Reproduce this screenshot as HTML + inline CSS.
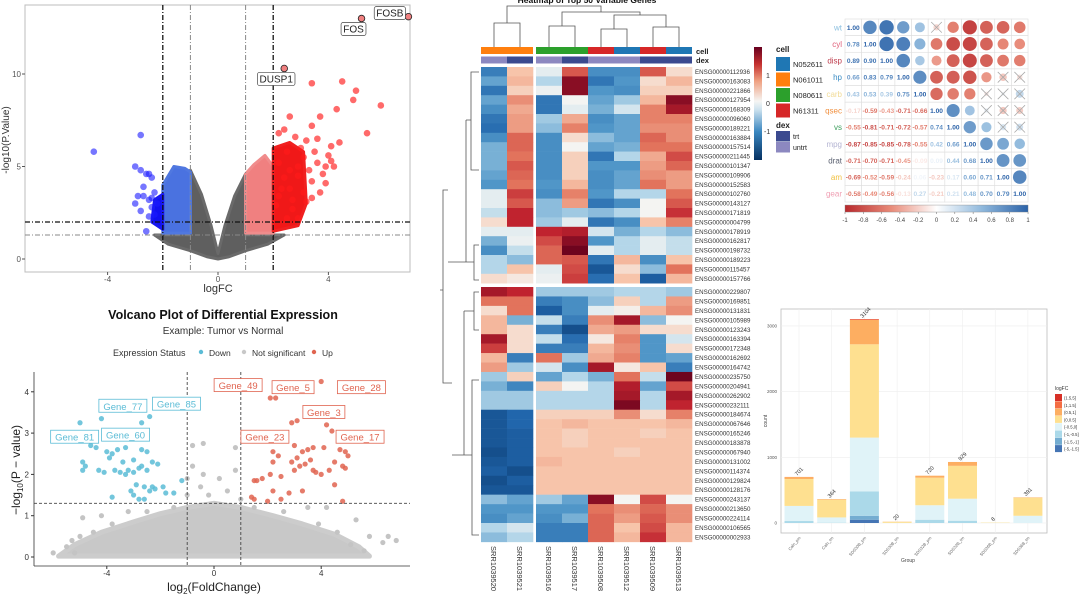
<!DOCTYPE html>
<html><head><meta charset="utf-8">
<style>
html,body{margin:0;padding:0;background:#fff;}
svg{display:block;font-family:"Liberation Sans",Arial,sans-serif;}
</style></head>
<body>
<svg id="s" width="1080" height="595" viewBox="0 0 1080 595">
  <rect x="0" y="0" width="1080" height="595" fill="#fff"/>
  <g id="v1">
    <rect x="25" y="5" width="385" height="267" fill="#fff" stroke="#bdbdbd" stroke-width="1"/>
    <text x="218" y="292" font-size="11" text-anchor="middle" fill="#333">logFC</text>
    <text transform="translate(9,140) rotate(-90)" font-size="10" text-anchor="middle" fill="#333">-log10(P.Value)</text>
  </g>
  <g id="v2">
    <text x="223" y="319" font-size="12.5" font-weight="bold" text-anchor="middle" fill="#111">Volcano Plot of Differential Expression</text>
    <text x="223" y="334" font-size="10" text-anchor="middle" fill="#333">Example: Tumor vs Normal</text>
    <g>
      <text x="113" y="356" font-size="9" fill="#333">Expression Status</text>
      <circle cx="201" cy="352" r="2.2" fill="#5bbcd6"/>
      <text x="209" y="356" font-size="8.5" fill="#333">Down</text>
      <circle cx="244" cy="352" r="2.2" fill="#c8c8c8"/>
      <text x="252" y="356" font-size="8.5" fill="#333">Not significant</text>
      <circle cx="314" cy="352" r="2.2" fill="#e06450"/>
      <text x="322" y="356" font-size="8.5" fill="#333">Up</text>
    </g>
    <line x1="34" y1="372" x2="34" y2="566" stroke="#333" stroke-width="0.8"/>
    <line x1="34" y1="566" x2="410" y2="566" stroke="#333" stroke-width="0.8"/>
    <text x="214" y="591" font-size="12" text-anchor="middle" fill="#222">log<tspan font-size="8" dy="3">2</tspan><tspan dy="-3">(FoldChange)</tspan></text>
    <text transform="translate(20,470) rotate(-90)" font-size="12" text-anchor="middle" fill="#222">−log<tspan font-size="8" dy="3">10</tspan><tspan dy="-3">(P − value)</tspan></text>
  </g>
  <g id="hm">
    <text x="587" y="3" font-size="8.5" font-weight="bold" text-anchor="middle" fill="#111">Heatmap of Top 50 Variable Genes</text>
    <g fill="none" stroke="#555" stroke-width="0.8">
      <path d="M494 47V23H520V47 M549 47V26H575V47 M601 47V29H627V47 M653 47V27H679V47 M614 29V15H666V27 M562 26V12H640V15 M507 23V6H601V12"/>
    </g>
    <g fill="none" stroke="#555" stroke-width="0.8">
      <path d="M479 72H471V170H479 M471 120H466 M479 245H474V280H479 M474 262H466 M466 120V262H448 M479 292H474V330H479 M474 311H464 M479 380H472V535H479 M472 455H464 M464 311V455H452 M448 190H443V383H452 M443 290H440"/>
    </g>
    <text x="696" y="54" font-size="7.5" font-weight="bold" fill="#222">cell</text>
    <text x="696" y="63" font-size="7.5" font-weight="bold" fill="#222">dex</text>
    <rect x="754" y="47" width="8" height="113" fill="url(#hmgrad)"/>
    <text x="766" y="78" font-size="7" fill="#333">1</text>
    <text x="766" y="106" font-size="7" fill="#333">0</text>
    <text x="764" y="134" font-size="7" fill="#333">-1</text>
    <text x="776" y="52" font-size="8" font-weight="bold" fill="#222">cell</text>
    <text x="776" y="128" font-size="8" font-weight="bold" fill="#222">dex</text>
  </g>
  <g id="corr"></g>
  <g id="bar">
    <rect x="781" y="309" width="266" height="224" fill="#fff" stroke="#bbb" stroke-width="0.8"/>
    <text transform="translate(767,421) rotate(-90)" font-size="5" text-anchor="middle" fill="#444">count</text>
    <text x="908" y="562" font-size="5" text-anchor="middle" fill="#444">Group</text>
    <text x="1055" y="390" font-size="5" fill="#333">logFC</text>
  </g>
  <defs>
    <linearGradient id="hmgrad" x1="0" y1="1" x2="0" y2="0">
      <stop offset="0" stop-color="#053061"/><stop offset="0.25" stop-color="#3a87c0"/><stop offset="0.45" stop-color="#cfe3ef"/>
      <stop offset="0.52" stop-color="#f5f5f3"/><stop offset="0.7" stop-color="#efa080"/><stop offset="0.85" stop-color="#c4302f"/><stop offset="1" stop-color="#67001f"/>
    </linearGradient>
    <linearGradient id="corrgrad" x1="0" y1="0" x2="1" y2="0">
      <stop offset="0" stop-color="#b8282c"/><stop offset="0.25" stop-color="#e88a78"/><stop offset="0.5" stop-color="#ffffff"/><stop offset="0.75" stop-color="#8fb8dc"/><stop offset="1" stop-color="#2b62a8"/>
    </linearGradient>
    <clipPath id="rowclip"><rect x="690" y="284" width="76" height="270"/></clipPath>
  </defs>
</svg>
<script>
const v1Red = [[3.4,9.5],[4.5,9.6],[5,9.1],[4.9,8.6],[5.9,8.3],[4.3,8.1],[3.7,7.7],[2.6,7.7],[3.4,7.2],[5.4,6.8],[4.4,6.3],[4.1,6.1],[3.6,6.5],[2.2,6.8],[2.4,7],[2.8,6.6],[3.2,6.4],[4,5.6],[4.1,5.3],[3.4,4.2],[3.9,4.1],[3.7,3.6],[3.2,3.1],[3.4,3.3],[2.9,4.5],[3.1,5.5],[2.5,5.8],[2.9,5],[2.6,4.8],[2.3,3.8],[2.7,3.2],[2.9,2.2],[2.5,2.2],[3.9,5.0],[3.6,5.2],[3.0,6.0],[2.2,5.2],[2.4,4.4],[2.7,2.7],[3.3,4.8],[2.1,2.9],[2.2,3.4],[2.6,3.8],[3.8,4.6],[3.1,3.6],[4.2,5.0],[3.5,5.8]];
const v1Blue = [[-4.5,5.8],[-2.8,6.7],[-3,5],[-2.8,4.8],[-2.6,4.6],[-2.5,4.6],[-2.4,4.4],[-2.7,3.9],[-2.3,3.6],[-2.9,3.4],[-2.5,3.2],[-3,3],[-2.8,2.6],[-2.4,2.8],[-2.2,3.0],[-2.3,2.4],[-2.5,2.3],[-2.6,1.5],[-2.7,3.4],[-2.4,3.3]];
const v1Labels = [["FOSB",6.9,13.1],["FOS",5.2,13.0],["DUSP1",2.4,10.3]];
const v1XTicks = [-4,0,4];
const v1YTicks = [0,5,10];
const v2Down = [[-5,3.25],[-4.2,3.35],[-2.4,3.4],[-2.7,3.25],[-4.6,2.7],[-4.4,2.65],[-4,2.55],[-3.8,2.5],[-3.6,2.6],[-3.3,2.65],[-2.7,2.6],[-2.5,2.55],[-4.9,2.3],[-4.8,2.2],[-4.9,2.1],[-4.3,2.1],[-4.1,2.05],[-3.7,2.1],[-3.5,2.05],[-3.3,2.0],[-3.2,2.1],[-3,2.05],[-2.8,2.15],[-2.7,2.2],[-2.5,2.1],[-2.3,2.3],[-2.1,2.25],[-3.9,2.4],[-3.4,2.3],[-3.0,2.35],[-2.6,1.7],[-2.4,1.6],[-2.2,1.65],[-1.9,1.7],[-1.8,1.55],[-1.5,1.55],[-1.2,1.85],[-3.8,1.45],[-3,1.5],[-2.8,1.4],[-2.6,1.4],[-3.1,1.6],[-2.9,1.75],[-2.3,1.7]];
const v2Up = [[4,4.25],[2.1,3.85],[2.3,3.85],[2.9,3.25],[3.1,3.3],[4.2,3.2],[4.4,3.05],[2.7,2.95],[3,2.7],[3.3,2.55],[3.5,2.6],[3.7,2.65],[4.1,2.65],[4.7,2.6],[4.9,2.55],[5,2.45],[2.2,2.55],[2.4,2.45],[2.2,2.3],[2.9,2.3],[3.2,2.2],[3.4,2.25],[3.6,2.35],[3.8,2.05],[4.5,2.3],[4.8,2.2],[4.9,2.15],[2.5,1.95],[2.1,2.0],[1.8,1.9],[1.6,1.85],[1.5,1.85],[3,2.1],[3.7,2.1],[4.3,2.1],[4.5,1.75],[2.8,1.55],[3.3,1.6],[2.2,1.6],[1.4,1.45],[1.5,1.4],[2,1.35],[2.5,1.4],[4.8,1.35],[3.1,2.4],[4.0,2.0]];
const v2NS = [[-6,0.1],[-5.5,0.25],[-5,0.5],[-4.9,0.95],[-4.2,1.0],[-0.8,2.7],[-0.4,2.75],[0.8,2.65],[-0.8,2.2],[-0.4,2.0],[0.2,1.9],[0.8,2.1],[-1,1.9],[-0.5,1.7],[6.5,0.5],[6.8,0.4],[5.6,0.15],[5.8,0.5],[6.3,0.35],[4.2,1.2],[5.3,0.9],[-5.2,0.1],[-3.2,1.1],[3.5,1.2],[-0.2,1.5],[0.5,1.6],[-1.5,1.2],[1.5,1.2],[-2.5,1.1],[2.6,1.1],[-3.8,0.8],[3.9,0.8],[-4.5,0.6],[4.6,0.6],[-5.3,0.4],[5.1,0.3],[-1,1.5],[1,1.4]];
const v2Labels = [["Gene_81",-5.2,2.9,"d"],["Gene_77",-3.4,3.65,"d"],["Gene_85",-1.4,3.7,"d"],["Gene_60",-3.3,2.95,"d"],["Gene_49",0.9,4.15,"u"],["Gene_5",2.95,4.1,"u"],["Gene_28",5.5,4.1,"u"],["Gene_3",4.1,3.5,"u"],["Gene_23",1.9,2.9,"u"],["Gene_17",5.45,2.9,"u"]];
const v2XTicks = [-4,0,4];
const v2YTicks = [0,1,2,3,4];
const hmSamples = ["SRR1039520","SRR1039521","SRR1039516","SRR1039517","SRR1039508","SRR1039512","SRR1039509","SRR1039513"];
const hmCell = ["N061011","N061011","N080611","N080611","N61311","N052611","N61311","N052611"];
const hmDex = ["untrt","trt","untrt","trt","untrt","untrt","trt","trt"];
const hmGenes = ["ENSG00000112936","ENSG00000163083","ENSG00000221866","ENSG00000127954","ENSG00000168309","ENSG00000096060","ENSG00000189221","ENSG00000163884","ENSG00000157514","ENSG00000211445","ENSG00000101347","ENSG00000109906","ENSG00000152583","ENSG00000102760","ENSG00000143127","ENSG00000171819","ENSG00000004799","ENSG00000178919","ENSG00000162817","ENSG00000198732","ENSG00000189223","ENSG00000115457","ENSG00000157766","ENSG00000229807","ENSG00000169851","ENSG00000131831","ENSG00000105989","ENSG00000123243","ENSG00000163394","ENSG00000172348","ENSG00000162692","ENSG00000164742","ENSG00000235750","ENSG00000204941","ENSG00000262902","ENSG00000232111","ENSG00000184674","ENSG00000067646","ENSG00000165246","ENSG00000183878","ENSG00000067940","ENSG00000131002","ENSG00000114374","ENSG00000129824","ENSG00000128176","ENSG00000243137","ENSG00000213650","ENSG00000224114","ENSG00000106565","ENSG00000002933"];
const hmValues = [
[-1.2,0.4,-0.1,1.2,-1,-1,1.2,0.2],[-0.8,0.5,-0.4,2,-1.3,-0.9,0.2,0.5],[-1.3,0.3,-0.05,2,-0.9,-1,0.3,0.3],[-0.8,0.8,-1.3,0,-0.8,-0.5,0.5,2],[-1,0.6,-1.3,-0.1,-0.7,-0.2,0.9,1.8],
[-1.3,0.7,-0.5,0.6,-1,-0.8,0.9,0.9],[-1.4,0.7,-0.6,0.9,-0.9,-0.8,0.8,0.8],[-1,1.1,-1,0.2,-0.6,-0.8,1.1,0.8],[-0.7,1.1,-1,0,-0.8,-0.7,1,1],[-0.7,1,-1,0.3,-1.3,-0.4,0.6,1.3],
[-0.7,1.2,-1,0.3,-0.9,-0.9,0.7,1.1],[-0.8,1.1,-1,0.3,-1,-0.8,0.8,0.7],[-0.9,1,-0.9,0.5,-1,-0.8,1,0.7],[-0.1,1.4,-1,0.9,-0.9,-0.4,-0.4,1],[-0.1,1.2,-0.6,0.7,-1.3,-1,0,1.2],
[-0.3,1.6,-0.6,-0.5,-0.6,-0.4,0,1.5],[0.2,1.6,-0.5,-0.1,-1.3,-1,0.4,0.9],[-0.1,-0.1,1.6,1.7,-0.2,-0.7,-0.4,-0.6],[-0.7,-0.05,1.3,2,-0.9,-0.4,-0.1,-0.3],[-1,-0.3,1.1,2.2,-0.1,-0.4,-0.1,-0.3],
[-0.4,-0.6,1.1,1.2,-1.3,0.5,-1,0.4],[-0.4,0.4,-0.1,1.3,-1.7,0.2,-0.6,1],[0.2,0.1,-0.05,1.4,-1.4,0.4,-1.6,0.5],
[1.8,1.6,-0.5,-0.5,-0.5,-0.4,-0.4,-0.5],[1,1,-1.2,-1,-0.6,0.3,-0.4,0.7],[0.2,1,-1.6,-1,-0.1,0.05,0.5,0.8],[0.5,-0.7,-0.3,-1.2,0.8,1.8,-0.6,0],[0.5,0.2,-1.2,-1.8,0.6,0.7,0.2,0.2],
[1.8,0.2,-0.3,-1.4,0.1,0.9,-0.9,-0.2],[1.4,0.2,-1.2,-1.2,0.5,0.8,-0.9,0.2],[0.5,-1.2,1,-0.5,0.6,0.9,-0.9,-0.8],[0.7,-0.5,-0.2,-1,1.8,0.1,0.4,-1.2],[-0.5,0.3,-0.8,-0.4,-0.7,1,-0.3,2.2],
[-0.7,-1.1,0.3,0,-0.4,1.7,-0.8,1.3],[-0.5,-0.5,-0.4,-0.4,-0.4,1.8,-0.4,1.8],[-0.5,-0.5,-0.4,-0.4,-0.4,2.1,-0.4,1.6],[-1.7,-1.5,0.3,0.3,0.3,0.8,0.2,0.9],[-1.7,-1.5,0.4,0.5,0.4,0.4,0.4,0.5],
[-1.7,-1.6,0.4,0.3,0.4,0.4,0.3,0.4],[-1.7,-1.6,0.4,0.3,0.4,0.4,0.4,0.4],[-1.8,-1.6,0.4,0.4,0.4,0.3,0.4,0.4],[-1.7,-1.6,0.5,0.4,0.4,0.4,0.4,0.4],[-1.6,-1.8,0.4,0.4,0.4,0.4,0.4,0.4],
[-1.8,-1.6,0.4,0.4,0.4,0.4,0.4,0.4],[-1.7,-1.7,0.4,0.4,0.4,0.4,0.4,0.4],[-0.6,-0.8,-0.5,-0.8,2,0,1.3,0],[-0.9,-0.9,-0.9,-0.9,1,0.8,1.1,0.8],[-1,-0.8,-1,-0.7,1.1,0.7,1.2,0.8],
[-0.4,-0.2,-1.2,-1.2,1.1,0.4,1.3,0.5],[-0.6,-0.4,-1.2,-1.2,1.1,0.5,1.5,0.5]];
const cellLevels = ["N052611","N061011","N080611","N61311"];
const dexLevels = ["trt","untrt"];
const corrVars = ["wt","cyl","disp","hp","carb","qsec","vs","mpg","drat","am","gear"];
const corrLower = [[],[0.78],[0.89,0.90],[0.66,0.83,0.79],[0.43,0.53,0.39,0.75],[-0.17,-0.59,-0.43,-0.71,-0.66],[-0.55,-0.81,-0.71,-0.72,-0.57,0.74],[-0.87,-0.85,-0.85,-0.78,-0.55,0.42,0.66],[-0.71,-0.70,-0.71,-0.45,-0.09,0.09,0.44,0.68],[-0.69,-0.52,-0.59,-0.24,0.06,-0.23,0.17,0.60,0.71],[-0.58,-0.49,-0.56,-0.13,0.27,-0.21,0.21,0.48,0.70,0.79]];
const corrTicks = [-1,-0.8,-0.6,-0.4,-0.2,0,0.2,0.4,0.6,0.8,1];
const barGroups = ["Caln_pm","Caln_tm","SDS30B_pm","SDS30B_tm","SDS32B_pm","SDS32B_tm","SDS36B_pm","SDS36B_tm"];
const barBins = ["(-5,-1.5]","(-1.5,-1]","(-1,-0.5]","(-0.5,0]","(0,0.5]","(0.5,1]","(1,1.5]","(1.5,5]"];
const barSeries = [
[0,0,30,230,410,30,1,0],[0,0,5,80,270,9,0,0],[50,60,370,820,1420,370,10,4],[0,0,0,2,15,3,0,0],
[0,0,50,220,420,30,0,0],[0,0,35,335,500,59,0,0],[0,0,0,3,5,0,0,0],[0,0,0,110,275,6,0,0]];
const barTotals = [701,364,3104,20,720,929,8,391];
const barYTicks = [0,1000,2000,3000];

const NS = "http://www.w3.org/2000/svg";
const svg = document.getElementById("s");
function mk(tag, attrs, parent){const e=document.createElementNS(NS,tag);for(const k in attrs)e.setAttribute(k,attrs[k]);(parent||svg).appendChild(e);return e;}

// ---------- Volcano 1 ----------
const g1 = document.getElementById("v1");
const vx1 = x=>218+x*27.6, vy1 = y=>259-y*18.5;
const grayPoly = mk("path",{d:`M${vx1(-2.3)},${vy1(1.3)} L${vx1(-1.8)},${vy1(0.8)} L${vx1(-1)},${vy1(0.45)} L${vx1(-0.4)},${vy1(0.12)} L${vx1(0)},${vy1(0)} L${vx1(0.4)},${vy1(0.12)} L${vx1(1)},${vy1(0.45)} L${vx1(1.8)},${vy1(0.8)} L${vx1(2.4)},${vy1(1.3)} L${vx1(1)},${vy1(1.3)} L${vx1(1)},${vy1(4.6)} L${vx1(0.6)},${vy1(3.4)} L${vx1(0.25)},${vy1(1.8)} L${vx1(0)},${vy1(0.3)} L${vx1(-0.25)},${vy1(1.8)} L${vx1(-0.6)},${vy1(3.5)} L${vx1(-1)},${vy1(4.8)} L${vx1(-1)},${vy1(1.3)} Z`,fill:"#5f5f5f",stroke:"#6a6a6a","stroke-width":3,"stroke-linejoin":"round"},g1);


const pinkPoly = mk("path",{d:`M${vx1(1)},${vy1(1.4)} L${vx1(2)},${vy1(1.4)} L${vx1(2)},${vy1(5)} L${vx1(1.7)},${vy1(5.6)} L${vx1(1.3)},${vy1(5.1)} L${vx1(1)},${vy1(4.6)} Z`,fill:"#f08080",stroke:"#f08c8c","stroke-width":3,"stroke-linejoin":"round"},g1);


const lbPoly = mk("path",{d:`M${vx1(-1)},${vy1(1.4)} L${vx1(-2)},${vy1(1.4)} L${vx1(-2)},${vy1(4)} L${vx1(-1.6)},${vy1(5)} L${vx1(-1.2)},${vy1(4.9)} L${vx1(-1)},${vy1(4.7)} Z`,fill:"#4a72e0",stroke:"#5078e0","stroke-width":3,"stroke-linejoin":"round"},g1);


const redPoly = mk("path",{d:`M${vx1(2)},${vy1(1.5)} L${vx1(2.9)},${vy1(1.8)} L${vx1(3.2)},${vy1(3)} L${vx1(3.1)},${vy1(5.8)} L${vx1(2.6)},${vy1(6.3)} L${vx1(2)},${vy1(6)} Z`,fill:"#f01818",stroke:"#f02020","stroke-width":3,"stroke-linejoin":"round"},g1);


const bluePoly = mk("path",{d:`M${vx1(-2)},${vy1(1.6)} L${vx1(-2.4)},${vy1(2)} L${vx1(-2.3)},${vy1(3.2)} L${vx1(-2)},${vy1(3.5)} Z`,fill:"#1010f0",stroke:"#1818f0","stroke-width":3,"stroke-linejoin":"round"},g1);


v1Red.forEach(p=>{const c=mk("circle",{cx:vx1(p[0]),cy:vy1(p[1]),r:3.3,fill:"#ff1a1a","fill-opacity":0.65},g1);

});
v1Blue.forEach(p=>{const c=mk("circle",{cx:vx1(p[0]),cy:vy1(p[1]),r:3.3,fill:"#1a1aff","fill-opacity":0.6},g1);

});
[[-2,"#111",1.3],[2,"#111",1.3],[-1,"#888",1],[1,"#888",1]].forEach(l=>{const e=mk("line",{x1:vx1(l[0]),x2:vx1(l[0]),y1:5,y2:272,stroke:l[1],"stroke-width":l[2],"stroke-dasharray":"5,2,1,2"},g1);

});
[[2,"#111",1.3],[1.3,"#888",1]].forEach(l=>{const e=mk("line",{x1:25,x2:410,y1:vy1(l[0]),y2:vy1(l[0]),stroke:l[1],"stroke-width":l[2],"stroke-dasharray":"5,2,1,2"},g1);

});
v1Labels.forEach(L=>{const x=vx1(L[1]),y=vy1(L[2]);
const c=mk("circle",{cx:x,cy:y,r:3.3,fill:"#f08080",stroke:"#222","stroke-width":0.8},g1);


const w=L[0].length*6.3+6; const bx = L[0]==="FOSB"? x-w-3 : x-w/2-8; const by = L[0]==="FOSB"? y-10 : y+4;
const r=mk("rect",{x:bx,y:by,width:w,height:13,rx:2,fill:"#fff",stroke:"#444","stroke-width":0.7},g1);


const t=mk("text",{x:bx+w/2,y:by+10,"font-size":10,"text-anchor":"middle",fill:"#222"},g1);t.textContent=L[0];

});
v1XTicks.forEach(v=>{const t=mk("text",{x:vx1(v),y:282,"font-size":8,"text-anchor":"middle",fill:"#555"},g1);t.textContent=v;


mk("line",{x1:vx1(v),x2:vx1(v),y1:272,y2:275,stroke:"#555"},g1);});
v1YTicks.forEach(v=>{const t=mk("text",{x:21,y:vy1(v)+3,"font-size":8,"text-anchor":"end",fill:"#555"},g1);t.textContent=v;


mk("line",{x1:22,x2:25,y1:vy1(v),y2:vy1(v),stroke:"#555"},g1);});

// ---------- Volcano 2 ----------
const g2 = document.getElementById("v2");
const vx2 = x=>214+x*26.8, vy2 = y=>557-y*41.3;
const blob = mk("path",{d:`M${vx2(-5.8)},${vy2(0.02)} L${vx2(-5.2)},${vy2(0.3)} L${vx2(-4.2)},${vy2(0.6)} L${vx2(-3)},${vy2(0.85)} L${vx2(-2)},${vy2(1.05)} L${vx2(-1)},${vy2(1.2)} L${vx2(0)},${vy2(1.3)} L${vx2(1)},${vy2(1.2)} L${vx2(2.2)},${vy2(1.0)} L${vx2(3.3)},${vy2(0.8)} L${vx2(4.5)},${vy2(0.55)} L${vx2(5.4)},${vy2(0.25)} L${vx2(5.8)},${vy2(0.02)} Z`,fill:"#c8c8c8",stroke:"#cccccc","stroke-width":5,"stroke-linejoin":"round"},g2);


v2NS.forEach(p=>{const c=mk("circle",{cx:vx2(p[0]),cy:vy2(p[1]),r:2.6,fill:"#c4c4c4"},g2);

});
v2Down.forEach(p=>{const c=mk("circle",{cx:vx2(p[0]),cy:vy2(p[1]),r:2.6,fill:"#5bbcd6","fill-opacity":0.85},g2);

});
v2Up.forEach(p=>{const c=mk("circle",{cx:vx2(p[0]),cy:vy2(p[1]),r:2.6,fill:"#e06450","fill-opacity":0.85},g2);

});
[-1,1].forEach(v=>{const e=mk("line",{x1:vx2(v),x2:vx2(v),y1:372,y2:566,stroke:"#444","stroke-width":0.9,"stroke-dasharray":"3,2"},g2);

});
const hl=mk("line",{x1:34,x2:410,y1:vy2(1.3),y2:vy2(1.3),stroke:"#444","stroke-width":0.9,"stroke-dasharray":"3,2"},g2);


v2Labels.forEach(L=>{const x=vx2(L[1]),y=vy2(L[2]);const col=L[3]==="d"?"#5bbcd6":"#e06450";
const w=L[0].length*6+6;
const r=mk("rect",{x:x-w/2,y:y-7,width:w,height:13,fill:"#fff",stroke:col,"stroke-width":0.8},g2);


const t=mk("text",{x:x,y:y+3.5,"font-size":9.5,"text-anchor":"middle",fill:col},g2);t.textContent=L[0];

});
v2XTicks.forEach(v=>{const t=mk("text",{x:vx2(v),y:576,"font-size":8,"text-anchor":"middle",fill:"#333"},g2);t.textContent=v;


mk("line",{x1:vx2(v),x2:vx2(v),y1:566,y2:569,stroke:"#333"},g2);});
v2YTicks.forEach(v=>{const t=mk("text",{x:29,y:vy2(v)+3,"font-size":8,"text-anchor":"end",fill:"#333"},g2);t.textContent=v;


mk("line",{x1:31,x2:34,y1:vy2(v),y2:vy2(v),stroke:"#333"},g2);});

// ---------- Heatmap ----------
const gh = document.getElementById("hm");
const cellColors = {"N052611":"#1f77b4","N061011":"#ff7f0e","N080611":"#2ca02c","N61311":"#d62728"};
const dexColors = {"trt":"#3b4a8f","untrt":"#8c88c0"};
const stops=[[-2.2,[5,48,97]],[-1.5,[33,102,172]],[-0.9,[80,150,200]],[-0.4,[180,214,233]],[0,[244,244,242]],[0.4,[247,196,170]],[1,[226,115,92]],[1.6,[192,35,47]],[2.2,[110,4,30]]];
function hcol(v){if(v<=stops[0][0])return `rgb(${stops[0][1]})`;for(let i=1;i<stops.length;i++){if(v<=stops[i][0]){const a=stops[i-1],b=stops[i];const t=(v-a[0])/(b[0]-a[0]);return `rgb(${a[1].map((c,k)=>Math.round(c+(b[1][k]-c)*t)).join(",")})`;}}return `rgb(${stops[stops.length-1][1]})`;}
const hcx = c=> c<2 ? 481+c*26 : 536+(c-2)*26;
const hry = r=> r<23 ? 67+r*9.4 : 287+(r-23)*9.44;
hmSamples.forEach((s,c)=>{
 const a=mk("rect",{x:hcx(c),y:47,width:26,height:7,fill:cellColors[hmCell[c]]},gh);
 
 
 const d=mk("rect",{x:hcx(c),y:56.5,width:26,height:7,fill:dexColors[hmDex[c]]},gh);
 
 
 const t=mk("text",{transform:`translate(${hcx(c)+10},546) rotate(90)`,"font-size":7.5,fill:"#333"},gh);t.textContent=s;
 
 
});
hmValues.forEach((row,r)=>{row.forEach((v,c)=>{
 const e=mk("rect",{x:hcx(c),y:hry(r),width:26.3,height:9.7,fill:hcol(v)},gh);
 
 });});
const rlTop = mk("g",{},gh);
const rl = mk("g",{"clip-path":"url(#rowclip)"},gh);
hmGenes.forEach((g,r)=>{const t=mk("text",{x:695,y:hry(r)+7,"font-size":6.2,fill:"#333"},r<23?rlTop:rl);t.textContent=g;

});
cellLevels.forEach((l,i)=>{const r=mk("rect",{x:776,y:57+i*15.5,width:14,height:14,fill:cellColors[l]},gh);


const t=mk("text",{x:793,y:67+i*15.5,"font-size":7.5,fill:"#222"},gh);t.textContent=l;

});
dexLevels.forEach((l,i)=>{const r=mk("rect",{x:776,y:131+i*11,width:14,height:10.5,fill:dexColors[l]},gh);


const t=mk("text",{x:793,y:139+i*11,"font-size":7,fill:"#222"},gh);t.textContent=l;

});

// ---------- Correlation ----------
const gc = document.getElementById("corr");
const cs=16.64, ox=845, oy=19, n=corrVars.length;
const labColors=["#8ec1e0","#e0607a","#c04050","#3a8cc4","#f2dc98","#f09040","#40a060","#b4b4d2","#5a6070","#f0c040","#f0a0b4"];
function corrVal(i,j){if(i===j)return 1;return i>j?corrLower[i][j]:corrLower[j][i];}
const cstops=[[-1,[184,40,44]],[-0.5,[232,138,120]],[0,[255,255,255]],[0.5,[143,184,220]],[1,[43,98,168]]];
function ccol(v){for(let i=1;i<cstops.length;i++){if(v<=cstops[i][0]){const a=cstops[i-1],b=cstops[i];const t=(v-a[0])/(b[0]-a[0]);return `rgb(${a[1].map((c,k)=>Math.round(c+(b[1][k]-c)*t)).join(",")})`;}}return "rgb(43,98,168)";}
for(let i=0;i<n;i++){for(let j=0;j<n;j++){
 const x=ox+j*cs,y=oy+i*cs,v=corrVal(i,j);
 const cell=mk("rect",{x:x,y:y,width:cs,height:cs,fill:"#fff",stroke:"#ddd","stroke-width":0.6},gc);
 
 
 if(j<=i){const t=mk("text",{x:x+cs/2,y:y+cs/2+2.5,"font-size":6.6,"font-weight":"bold","text-anchor":"middle",fill:ccol(v)},gc);t.textContent=v.toFixed(2);
  
  }
 else{const c=mk("circle",{cx:x+cs/2,cy:y+cs/2,r:Math.sqrt(Math.abs(v))*7.6,fill:ccol(v)},gc);
  
  
  if(Math.abs(v)<0.35){const p=mk("path",{d:`M${x+3},${y+3}L${x+cs-3},${y+cs-3}M${x+cs-3},${y+3}L${x+3},${y+cs-3}`,stroke:"#aaa","stroke-width":0.8,fill:"none"},gc);
   
   }}
}
 const t=mk("text",{x:ox-3,y:oy+i*cs+cs/2+3,"font-size":8,"text-anchor":"end",fill:labColors[i]},gc);t.textContent=corrVars[i];
 
 }
const cb=mk("rect",{x:ox,y:oy+n*cs+3,width:n*cs,height:7,fill:"url(#corrgrad)",stroke:"#888","stroke-width":0.4},gc);


corrTicks.forEach(v=>{const x=ox+(v+1)/2*n*cs;mk("line",{x1:x,x2:x,y1:oy+n*cs+10,y2:oy+n*cs+12,stroke:"#666","stroke-width":0.5},gc);
const t=mk("text",{x:x,y:oy+n*cs+20,"font-size":6,"text-anchor":"middle",fill:"#444"},gc);t.textContent=v;

});

// ---------- Stacked bar ----------
const gb = document.getElementById("bar");
const by = v=>523-v*0.0657, bxc = i=>799+i*32.7;
const binColors=["#4575b4","#74add1","#abd9e9","#e0f3f8","#fee090","#fdae61","#f46d43","#d73027"];
barYTicks.forEach(v=>{mk("line",{x1:781,x2:1047,y1:by(v),y2:by(v),stroke:"#eee","stroke-width":0.6},gb);
const t=mk("text",{x:777,y:by(v)+1.5,"font-size":4.5,"text-anchor":"end",fill:"#555"},gb);t.textContent=v;

});
barGroups.forEach((g,i)=>{mk("line",{x1:bxc(i),x2:bxc(i),y1:309,y2:533,stroke:"#eee","stroke-width":0.6},gb);
let acc=0;barSeries[i].forEach((v,k)=>{if(v>0){const r=mk("rect",{x:bxc(i)-14.5,y:by(acc+v),width:29,height:v*0.0657,fill:binColors[k]},gb);
 
 }acc+=v;});
const tt=mk("text",{transform:`translate(${bxc(i)-2},${by(barTotals[i])-1}) rotate(-45)`,"font-size":5.5,fill:"#333"},gb);tt.textContent=barTotals[i];


const t=mk("text",{transform:`translate(${bxc(i)+2},${538}) rotate(-50)`,"font-size":4.2,"text-anchor":"end",fill:"#666"},gb);t.textContent=g;

});
barBins.slice().reverse().forEach((b,k)=>{const r=mk("rect",{x:1055,y:394+k*7.3,width:7,height:7,fill:binColors[7-k]},gb);


const t=mk("text",{x:1064,y:399.5+k*7.3,"font-size":4.2,fill:"#333"},gb);t.textContent=b;

});
</script>
</body></html>
